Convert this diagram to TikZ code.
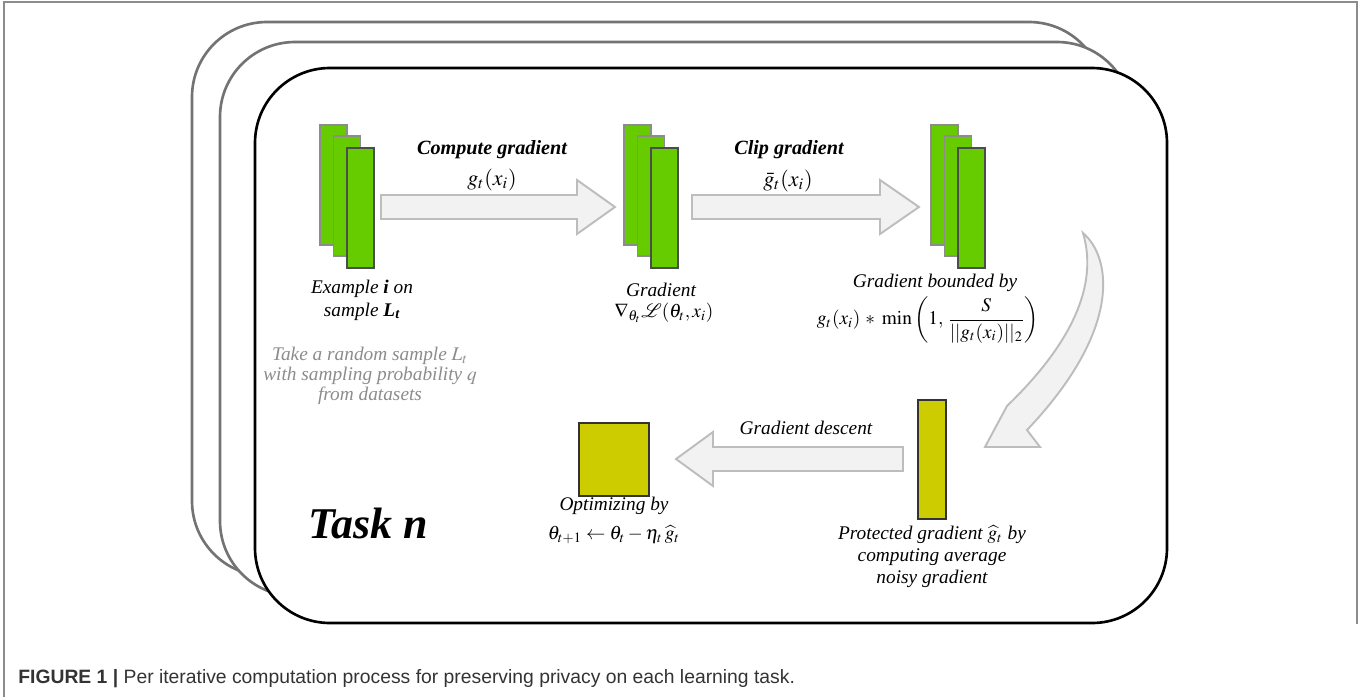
\documentclass[tikz,border=0pt]{standalone}
\usepackage{amsmath}
\usepackage{mathptmx}
\usepackage[no-math]{fontspec}
\setmainfont{Liberation Serif}
\newfontfamily\capfont{Liberation Sans}
\usepackage{xcolor}

\definecolor{leafgreen}{HTML}{66CC00}
\definecolor{mustard}{HTML}{CCCC00}
\definecolor{arrowfill}{HTML}{F2F2F2}
\definecolor{arrowline}{HTML}{BDBDBD}

% block arrow: tail x, head base x, tip x, middle y
\newcommand{\flowarrow}[4]{%
  \draw[flow] (#1,#4-12) -- (#2,#4-12) -- (#2,#4-27) -- (#3,#4)
    -- (#2,#4+27) -- (#2,#4+12) -- (#1,#4+12) -- cycle;}

\begin{document}
\begin{tikzpicture}[x=0.02cm,y=-0.02cm,
    frame/.style={line width=1.5pt, fill=white, rounded corners=1.5cm},
    greenbar/.style={fill=leafgreen, draw=black!45, line width=0.8pt},
    yellowbar/.style={fill=mustard, draw=black!80, line width=0.8pt},
    flow/.style={fill=arrowfill, draw=arrowline, line width=1.1pt},
    lbl/.style={font=\fontsize{11}{13}\selectfont\itshape, align=center, inner sep=0pt},
    hd/.style={font=\fontsize{11.5}{14}\selectfont\bfseries\itshape, inner sep=0pt},
    eq/.style={font=\fontsize{12.5}{14}\selectfont, inner sep=0pt},
    note/.style={lbl, font=\fontsize{11}{11.4}\selectfont\itshape, text=black!45}]
  \useasboundingbox (0,0) rectangle (1360,697);

  % page rule
  \draw[black!45, line width=0.8pt] (4,697) -- (4,2) -- (1357,2) -- (1357,624);

  % stacked task frames
  \draw[frame, draw=black!55] (192,22) rectangle (1104,576);
  \draw[frame, draw=black!55] (220,42) rectangle (1132,596);
  \draw[frame, draw=black] (255,68) rectangle (1167,623);

  % three stacks of per-example gradients
  \foreach \x in {320,624,931} {
    \draw[greenbar] (\x,125) rectangle ++(27,120);
    \draw[greenbar] (\x+13.5,136) rectangle ++(27,120);
    \draw[greenbar, draw=black!70] (\x+27,148) rectangle ++(27,120);
  }

  % averaged noisy gradient and updated model
  \draw[yellowbar] (918,400) rectangle (946,519);
  \draw[yellowbar] (579,423) rectangle (649,496);

  \flowarrow{381}{577}{615}{207}
  \flowarrow{692}{880}{919}{207}
  \flowarrow{903}{713}{676}{459}

  % bent arrow down to the noisy gradient
  \draw[flow, line join=miter] (1083,233) .. controls (1112,258) and (1122,330) .. (1027,430)
    -- (1040,447) -- (985,447) -- (1007,406)
    .. controls (1065,350) and (1100,290) .. (1083,233) -- cycle;

  \node[hd] (computehd) at (492,150) {Compute gradient};
  \node[eq] (computeeq) at (492,180) {$g_t(x_i)$};
  \node[hd] (cliphd) at (789,150) {Clip gradient};
  \node[eq] (clipeq) at (788,181) {$\bar{g}_t(x_i)$};

  \node[lbl] (example) at (362,300) {Example \textbf{i} on\\ sample \textbf{L\textsubscript{t}}};
  \node[note] (sampling) at (370,376) {Take a random sample $L_t$\\ with sampling probability $q$\\ from datasets};

  \node[lbl] (grad) at (661,290) {Gradient};
  \node[lbl] (gradeq) at (664,313) {$\nabla_{\theta_t}\mathcal{L}(\theta_t, x_i)$};

  \node[lbl] (bounded) at (935,283) {Gradient bounded by};
  \node[lbl] (boundeq) at (928,320) {$g_t(x_i)\,\ast\;\min\left(1,\,\dfrac{S}{||g_t(x_i)||_2}\right)$};

  \node[lbl] (descent) at (806,428) {Gradient descent};

  \node[lbl] (optim) at (614,506) {Optimizing by};
  \node[lbl] (optimeq) at (614,535) {$\theta_{t+1}\leftarrow\theta_t-\eta_t\,\widehat{g}_t$};

  \node[lbl, font=\fontsize{11}{12.5}\selectfont\itshape] (protect) at (932,557) {Protected gradient $\widehat{g}_t$ by\\ computing average\\ noisy gradient};

  \node[font=\fontsize{25}{30}\selectfont\bfseries\itshape, inner sep=0pt] (task) at (368,523) {Task n};

  \node[anchor=west, inner sep=0pt, text=black!80, font=\capfont\fontsize{11}{13}\selectfont] (caption) at (18,679)
    {\textbf{FIGURE 1 |} Per iterative computation process for preserving privacy on each learning task.};
\end{tikzpicture}
\end{document}
